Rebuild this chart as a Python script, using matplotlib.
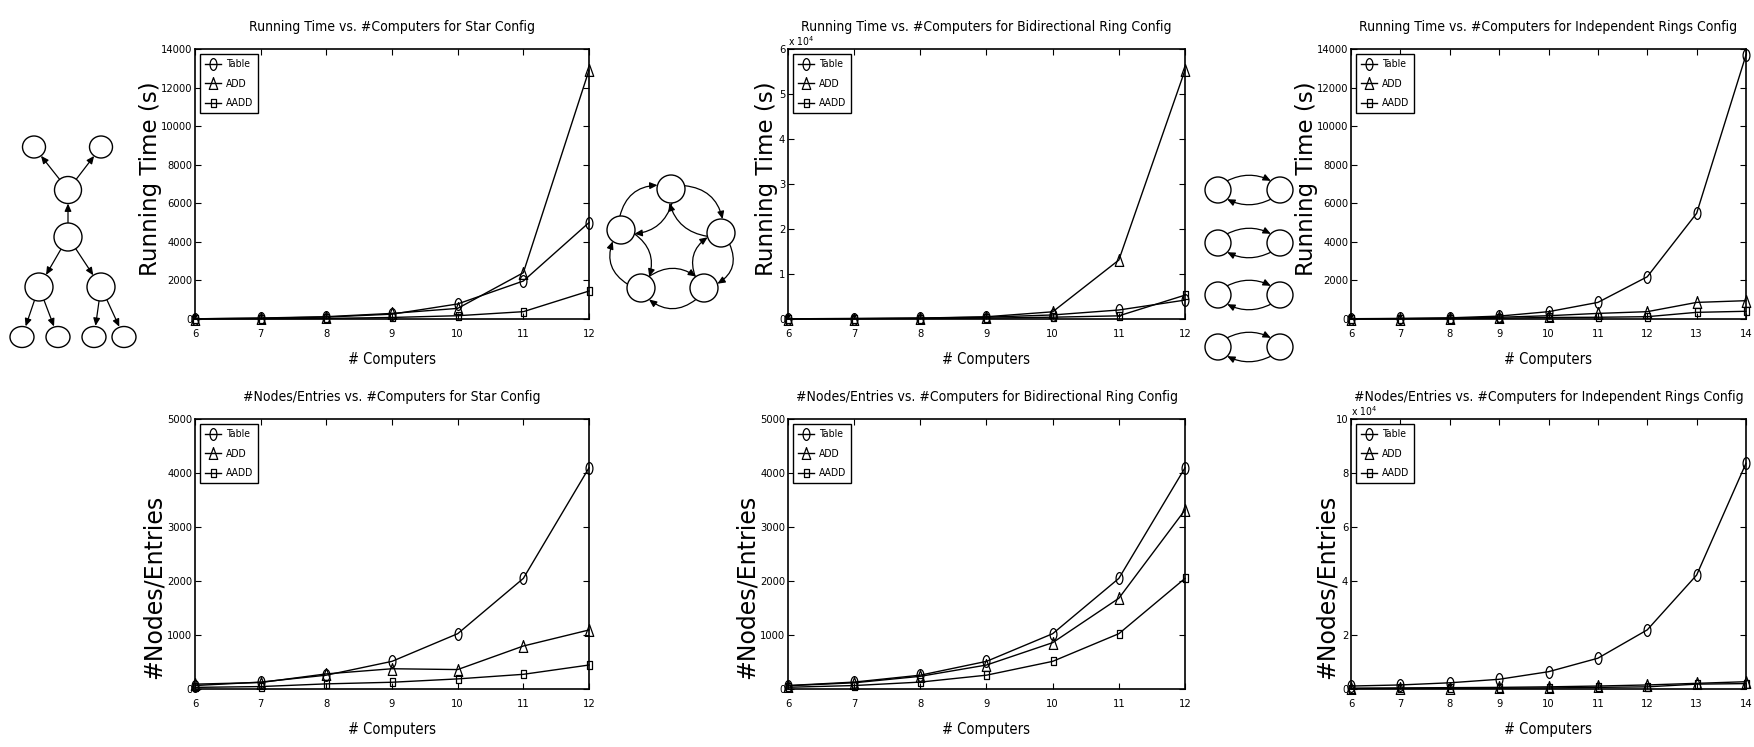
import numpy as np
import matplotlib
matplotlib.use('Agg')
import matplotlib.pyplot as plt
from matplotlib.path import Path
from matplotlib.patches import Ellipse, FancyArrowPatch
from matplotlib.ticker import FuncFormatter

# ---------------- data ----------------
computers_12 = [6, 7, 8, 9, 10, 11, 12]
computers_14 = [6, 7, 8, 9, 10, 11, 12, 13, 14]
series_names = ['Table', 'ADD', 'AADD']

# Running time (s), star configuration
star_time_table = [10, 40, 100, 250, 780, 1970, 5000]
star_time_add = [10, 50, 120, 290, 550, 2400, 12900]
star_time_aadd = [5, 10, 30, 80, 170, 380, 1450]

# Running time (s), bidirectional ring
ring_time_table = [50, 100, 200, 400, 900, 2000, 4200]
ring_time_add = [50, 100, 200, 500, 1600, 13100, 55300]
ring_time_aadd = [20, 50, 100, 200, 400, 700, 5300]

# Running time (s), independent rings
ind_time_table = [15, 30, 60, 150, 380, 860, 2190, 5480, 13690]
ind_time_add = [10, 20, 40, 90, 170, 290, 380, 860, 950]
ind_time_aadd = [5, 10, 20, 40, 80, 90, 120, 345, 400]

# #Nodes / entries, star
star_nodes_table = [64, 128, 256, 512, 1024, 2048, 4096]
star_nodes_add = [90, 120, 280, 375, 360, 796, 1093]
star_nodes_aadd = [30, 45, 95, 125, 187, 272, 444]

# #Nodes / entries, bidirectional ring
ring_nodes_table = [64, 128, 256, 512, 1024, 2048, 4096]
ring_nodes_add = [60, 115, 235, 444, 858, 1680, 3315]
ring_nodes_aadd = [32, 64, 128, 256, 512, 1024, 2048]

# #Nodes / entries, independent rings
ind_nodes_table = [1100, 1500, 2300, 3600, 6400, 11400, 21900, 42200, 83600]
ind_nodes_add = [300, 400, 500, 600, 800, 1100, 1500, 2100, 2700]
ind_nodes_aadd = [150, 200, 250, 300, 400, 600, 800, 1800, 2000]

titles = [
    'Running Time vs. #Computers for Star Config',
    'Running Time vs. #Computers for Bidirectional Ring Config',
    'Running Time vs. #Computers for Independent Rings Config',
    '#Nodes/Entries vs. #Computers for Star Config',
    '#Nodes/Entries vs. #Computers for Bidirectional Ring Config',
    '#Nodes/Entries vs. #Computers for Independent Rings Config',
]
xlabel_text = '# Computers'
ylabel_time = 'Running Time (s)'
ylabel_nodes = '#Nodes/Entries'

# ---------------- figure ----------------
W, H = 1754, 747
fig = plt.figure(figsize=(W / 100, H / 100), dpi=100)
fig.patch.set_facecolor('white')
plt.rcParams['mathtext.default'] = 'regular'

NARROW = dict(family=['DejaVu Sans'], stretch='condensed')
WIDE = ['DejaVu Sans']

# tall, narrow markers (the original figure is vertically stretched)
m_circle = Path.unit_circle().transformed(matplotlib.transforms.Affine2D().scale(0.58, 1.0))
m_tri = Path([(-0.36, -0.5), (0.36, -0.5), (0.0, 0.5), (-0.36, -0.5)],
             [Path.MOVETO, Path.LINETO, Path.LINETO, Path.CLOSEPOLY])
m_sq = Path([(-0.3, -0.5), (0.3, -0.5), (0.3, 0.5), (-0.3, 0.5), (-0.3, -0.5)],
            [Path.MOVETO, Path.LINETO, Path.LINETO, Path.LINETO, Path.CLOSEPOLY])
markers = [m_circle, m_tri, m_sq]
msizes = [8.5, 8.5, 6.0]

# ---- diagram overlay (drawn first, underneath) ----
dax = fig.add_axes([0, 0, 1, 1])
dax.set_xlim(0, W)
dax.set_ylim(H, 0)
dax.axis('off')

ARROW = dict(arrowstyle='-|>,head_length=0.45,head_width=0.2', mutation_scale=10,
             color='k', lw=0.9, shrinkA=0, shrinkB=0)


def node(x, y, w, h):
    dax.add_patch(Ellipse((x, y), w, h, facecolor='white', edgecolor='k', lw=1.0, zorder=3))


def straight(A, rA, B, rB):
    A = np.array(A, float)
    B = np.array(B, float)
    d = (B - A) / np.linalg.norm(B - A)
    p0 = A + d * rA
    p1 = B - d * rB
    dax.add_patch(FancyArrowPatch(tuple(p0), tuple(p1), zorder=2, **ARROW))


def curved(p0, c, p2):
    path = Path([p0, c, p2], [Path.MOVETO, Path.CURVE3, Path.CURVE3])
    dax.add_patch(FancyArrowPatch(path=path, zorder=2, **ARROW))


# star diagram
star_nodes = {
    'root': (68, 237, 28, 28), 'up': (68, 190, 27, 27),
    'tl': (34, 147, 23, 22), 'tr': (101, 147, 23, 22),
    'cl': (39, 287, 28, 28), 'cr': (101, 287, 28, 28),
    'l1': (22, 337, 24, 21), 'l2': (58, 337, 24, 21),
    'l3': (94, 337, 24, 21), 'l4': (124, 337, 24, 21),
}
star_edges = [('root', 'up'), ('up', 'tl'), ('up', 'tr'), ('root', 'cl'), ('root', 'cr'),
              ('cl', 'l1'), ('cl', 'l2'), ('cr', 'l3'), ('cr', 'l4')]
for k, (x, y, w, h) in star_nodes.items():
    node(x, y, w, h)
for a, b in star_edges:
    xa, ya, wa, ha = star_nodes[a]
    xb, yb, wb, hb = star_nodes[b]
    straight((xa, ya), (wa + ha) / 4, (xb, yb), (wb + hb) / 4)

# bidirectional ring diagram (clockwise order on screen)
ring_pts = [(671, 189), (721, 233), (704, 288), (641, 288), (621, 230)]
ring_r = 14
cen = np.mean(np.array(ring_pts, float), axis=0)
for (x, y) in ring_pts:
    node(x, y, 2 * ring_r, 2 * ring_r)
ang = np.deg2rad(55)
for i in range(len(ring_pts)):
    A = np.array(ring_pts[i], float)
    B = np.array(ring_pts[(i + 1) % len(ring_pts)], float)
    d = (B - A) / np.linalg.norm(B - A)
    n = np.array([-d[1], d[0]])
    mid = (A + B) / 2
    if np.dot(mid - cen, n) < 0:
        n = -n
    p0 = A + ring_r * (d * np.cos(ang) + n * np.sin(ang))
    p2 = B + ring_r * (-d * np.cos(ang) + n * np.sin(ang))
    c = (p0 + p2) / 2 + n * 18
    curved(tuple(p0), tuple(c), tuple(p2))
    q0 = B + ring_r * (-d * np.cos(ang) - n * np.sin(ang))
    q2 = A + ring_r * (d * np.cos(ang) - n * np.sin(ang))
    c2 = (q0 + q2) / 2 - n * 16
    curved(tuple(q0), tuple(c2), tuple(q2))

# independent rings diagram
ind_rows = [190, 243, 295, 347]
ind_x = (1218, 1280)
ind_r = 13
for y in ind_rows:
    node(ind_x[0], y, 2 * ind_r, 2 * ind_r)
    node(ind_x[1], y, 2 * ind_r, 2 * ind_r)
    a = np.deg2rad(45)
    p0 = (ind_x[0] + ind_r * np.cos(a), y - ind_r * np.sin(a))
    p2 = (ind_x[1] - ind_r * np.cos(a), y - ind_r * np.sin(a))
    curved(p0, ((p0[0] + p2[0]) / 2, y - 20), p2)
    q0 = (ind_x[1] - ind_r * np.cos(a), y + ind_r * np.sin(a))
    q2 = (ind_x[0] + ind_r * np.cos(a), y + ind_r * np.sin(a))
    curved(q0, ((q0[0] + q2[0]) / 2, y + 20), q2)

# ---------------- chart axes ----------------
col_lr = [(195, 589), (788, 1185), (1351, 1746)]
row_tb = [(49, 319), (419, 689)]


def make_ax(col, row):
    l, r = col_lr[col]
    t, b = row_tb[row]
    return fig.add_axes([l / W, 1 - b / H, (r - l) / W, (b - t) / H])


panels = [
    (0, 0, computers_12, [star_time_table, star_time_add, star_time_aadd], 14000, 2000, 1, ylabel_time),
    (1, 0, computers_12, [ring_time_table, ring_time_add, ring_time_aadd], 60000, 10000, 1e4, ylabel_time),
    (2, 0, computers_14, [ind_time_table, ind_time_add, ind_time_aadd], 14000, 2000, 1, ylabel_time),
    (0, 1, computers_12, [star_nodes_table, star_nodes_add, star_nodes_aadd], 5000, 1000, 1, ylabel_nodes),
    (1, 1, computers_12, [ring_nodes_table, ring_nodes_add, ring_nodes_aadd], 5000, 1000, 1, ylabel_nodes),
    (2, 1, computers_14, [ind_nodes_table, ind_nodes_add, ind_nodes_aadd], 100000, 20000, 1e4, ylabel_nodes),
]

ylabel_pos = {(0, 0): (-0.112, 0.52), (1, 0): (-0.053, 0.52), (2, 0): (-0.112, 0.52),
              (0, 1): (-0.104, 0.38), (1, 1): (-0.103, 0.38), (2, 1): (-0.062, 0.38)}

for idx, (col, row, xs, ys, ymax, ystep, scale, ylab) in enumerate(panels):
    ax = make_ax(col, row)
    for s, name, mk, ms in zip(ys, series_names, markers, msizes):
        ax.plot(xs, s, color='k', lw=1.0, marker=mk, markersize=ms,
                markerfacecolor='none', markeredgecolor='k', markeredgewidth=0.9,
                label=name, clip_on=False)
    ax.set_xlim(xs[0], xs[-1])
    ax.set_ylim(0, ymax)
    ax.set_xticks(xs)
    ax.set_yticks(np.arange(0, ymax + 1, ystep))
    if scale != 1:
        ax.yaxis.set_major_formatter(FuncFormatter(lambda v, p, s=scale: f'{v / s:g}'))
        ax.text(0.0, 1.004, r'x 10$^{4}$', transform=ax.transAxes, fontsize=7.5,
                ha='left', va='bottom', **NARROW)
    ax.tick_params(direction='in', top=True, right=True, length=4, width=0.8,
                   labelsize=8)
    ax.tick_params(axis='x', pad=7.5)
    ax.tick_params(axis='y', pad=2)
    for lab in ax.get_xticklabels() + ax.get_yticklabels():
        lab.set_family(NARROW['family'])
        lab.set_stretch('condensed')
    for sp in ax.spines.values():
        sp.set_linewidth(1.2)
    ax.set_title(titles[idx], fontsize=10, pad=13, **NARROW)
    ax.set_xlabel(xlabel_text, fontsize=10.5, labelpad=9, **NARROW)
    ax.set_ylabel(ylab, family=WIDE, fontsize=16.5 if ylab == ylabel_time else 17)
    ax.yaxis.label.set_va('center')
    ax.yaxis.set_label_coords(*ylabel_pos[(col, row)])
    leg = ax.legend(loc='upper left', prop=dict(size=7.5, **NARROW),
                    fancybox=False, framealpha=1, edgecolor='k', borderaxespad=0.5,
                    handlelength=1.5, handletextpad=0.45, labelspacing=0.9,
                    borderpad=0.5)
    leg.get_frame().set_linewidth(1.0)

fig.savefig('out.png', dpi=100, facecolor='white')
